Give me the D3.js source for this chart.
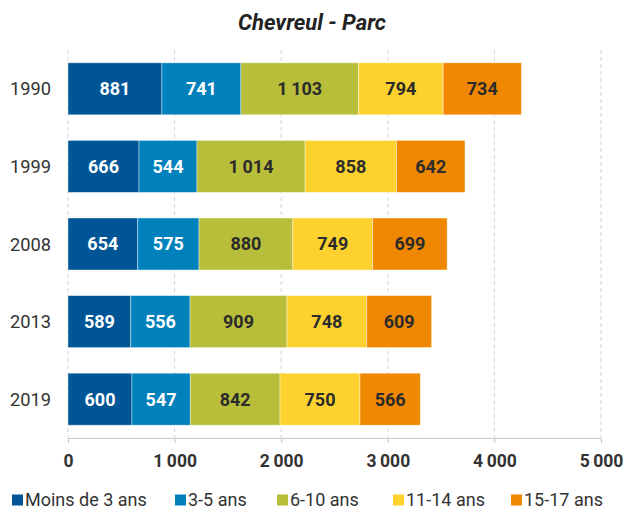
<html>
<head>
<script src="https://d3js.org/d3.v7.min.js"></script>
<title>Chevreul - Parc</title>
<style>
  body { margin: 0; background: #fff; }
  text { font-family: Roboto, "Noto Sans", sans-serif; }
</style>
</head>
<body>
<script>
// Data
var years = ["1990", "1999", "2008", "2013", "2019"];
var groups = ["Moins de 3 ans", "3-5 ans", "6-10 ans", "11-14 ans", "15-17 ans"];
var under3 = [881, 666, 654, 589, 600];
var age3to5 = [741, 544, 575, 556, 547];
var age6to10 = [1103, 1014, 880, 909, 842];
var age11to14 = [794, 858, 749, 748, 750];
var age15to17 = [734, 642, 699, 609, 566];
var xTicks = [0, 1000, 2000, 3000, 4000, 5000];

var colors = ["#005596", "#0081bc", "#b8be3a", "#fdd22f", "#f08700"];
var labelColors = ["#ffffff", "#ffffff", "#2b2b2b", "#2b2b2b", "#2b2b2b"];

var width = 625, height = 512;
var margin = {left: 68, right: 24, top: 50, bottom: 74};

// build rows for the stack
var rows = years.map(function(y, i) {
  return {year: y, "Moins de 3 ans": under3[i], "3-5 ans": age3to5[i],
    "6-10 ans": age6to10[i], "11-14 ans": age11to14[i], "15-17 ans": age15to17[i]};
});
var series = d3.stack().keys(groups)(rows);

var svg = d3.select("body").append("svg")
  .attr("width", width).attr("height", height);

var x = d3.scaleLinear().domain([0, 5000]).range([margin.left, width - margin.right]);
var y = d3.scaleBand().domain(years).range([margin.top, height - margin.bottom])
  .paddingInner(0.33).paddingOuter(0.165);

// fr style number: thin space as thousands separator
function fmt(v) {
  return d3.format(",")(v).replace(/,/g, "\u2009");
}

// title
svg.append("text")
  .attr("x", 312).attr("y", 30)
  .attr("text-anchor", "middle")
  .attr("font-size", 22).attr("font-weight", "bold").attr("font-style", "italic")
  .attr("fill", "#222")
  .text("Chevreul - Parc");

// dashed gridlines
svg.append("g").selectAll("line")
  .data(xTicks)
  .enter().append("line")
  .attr("x1", function(d) { return x(d); }).attr("x2", function(d) { return x(d); })
  .attr("y1", margin.top).attr("y2", height - margin.bottom)
  .attr("stroke", "#d6d6d6").attr("stroke-dasharray", "4,3");

// bars
var layer = svg.append("g").selectAll("g")
  .data(series)
  .enter().append("g")
  .attr("fill", function(d, i) { return colors[i]; });

layer.selectAll("rect")
  .data(function(d) { return d; })
  .enter().append("rect")
  .attr("x", function(d) { return x(d[0]); })
  .attr("y", function(d) { return y(d.data.year); })
  .attr("width", function(d) { return x(d[1]) - x(d[0]); })
  .attr("height", y.bandwidth())
  .attr("stroke", "#ffffff").attr("stroke-opacity", 0.5).attr("stroke-width", 0.8);

// value labels
layer.selectAll("text")
  .data(function(d, i) { return d.map(function(p) { return {p: p, i: i}; }); })
  .enter().append("text")
  .attr("x", function(d) { return (x(d.p[0]) + x(d.p[1])) / 2; })
  .attr("y", function(d) { return y(d.p.data.year) + y.bandwidth() / 2; })
  .attr("dy", "0.36em")
  .attr("text-anchor", "middle")
  .attr("font-size", 18).attr("font-weight", "bold")
  .attr("fill", function(d) { return labelColors[d.i]; })
  .text(function(d) { return fmt(d.p[1] - d.p[0]); });

// y axis labels
svg.append("g").selectAll("text")
  .data(years)
  .enter().append("text")
  .attr("x", 51).attr("y", function(d) { return y(d) + y.bandwidth() / 2; })
  .attr("dy", "0.36em")
  .attr("text-anchor", "end")
  .attr("font-size", 18.3).attr("fill", "#333")
  .text(function(d) { return d; });

// x axis
var xAxis = svg.append("g")
  .attr("transform", "translate(0," + (height - margin.bottom) + ")")
  .call(d3.axisBottom(x).tickValues(xTicks).tickSize(5).tickSizeOuter(0).tickFormat(fmt));
xAxis.select(".domain").attr("stroke", "#c8c8c8");
xAxis.selectAll(".tick line").attr("stroke", "#c8c8c8");
xAxis.selectAll(".tick text")
  .attr("y", 17).attr("dy", "0.71em")
  .attr("font-family", "Roboto, sans-serif")
  .attr("font-size", 17.5).attr("font-weight", "bold").attr("fill", "#333");

// legend (kept just inside the bottom edge)
var legendX = [12, 175, 277, 393, 511];
var legend = svg.append("g").selectAll("g")
  .data(groups)
  .enter().append("g")
  .attr("transform", function(d, i) { return "translate(" + legendX[i] + ",500)"; });
legend.append("rect")
  .attr("x", 0).attr("y", -5.5).attr("width", 11).attr("height", 11)
  .attr("fill", function(d, i) { return colors[i]; });
legend.append("text")
  .attr("x", 13).attr("dy", "0.36em")
  .attr("font-size", 18).attr("fill", "#333")
  .text(function(d) { return d; });
</script>
</body>
</html>
